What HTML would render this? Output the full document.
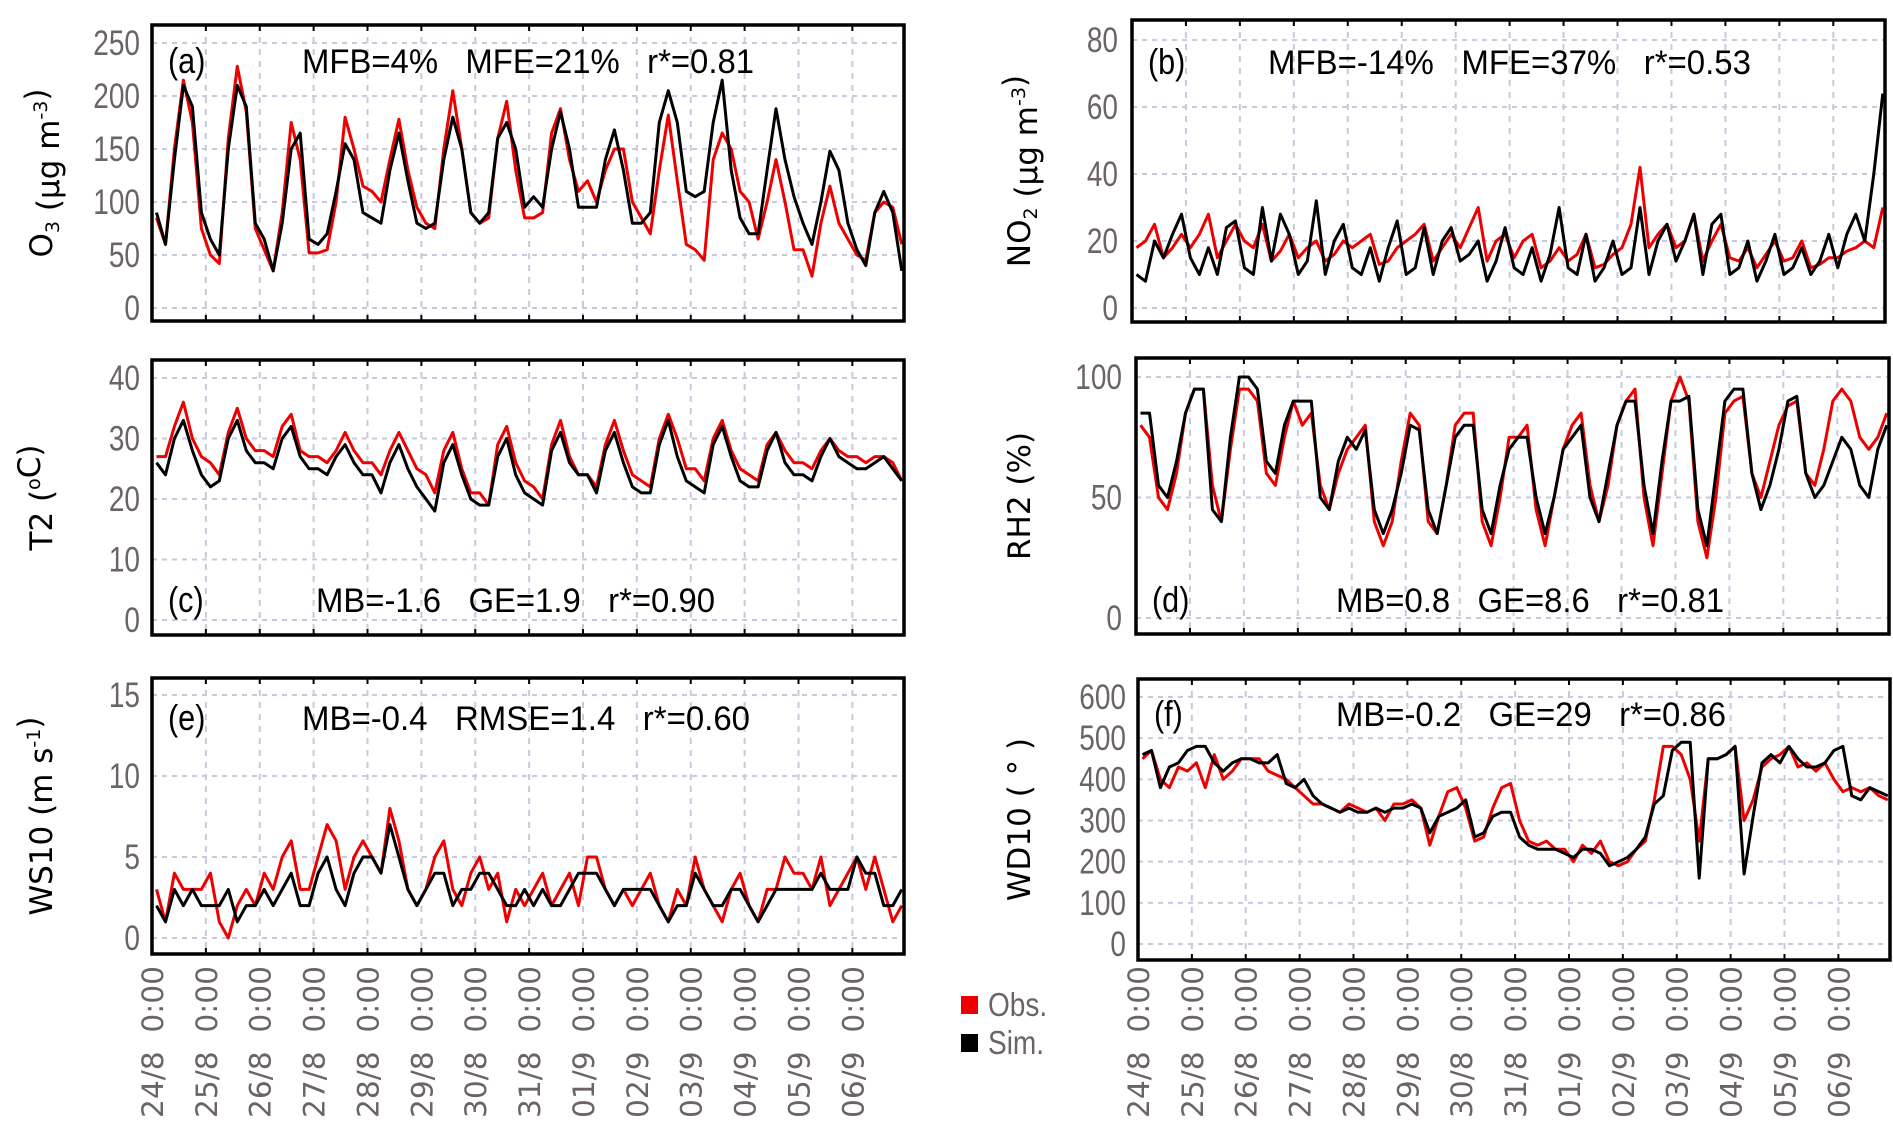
<!DOCTYPE html>
<html><head><meta charset="utf-8">
<style>
html,body{margin:0;padding:0;background:#fff;}
svg{display:block;}
text{font-family:"Liberation Sans",sans-serif;white-space:pre;}
text.dv{font-family:"DejaVu Sans",sans-serif;}
</style></head>
<body>
<svg id="fig" width="1893" height="1122" viewBox="0 0 1893 1122" xmlns="http://www.w3.org/2000/svg"></svg>
<script>
// ---------- data (values per day at hours 2,6,10,14,18,22) ----------
const dayLabels = ["24/8","25/8","26/8","27/8","28/8","29/8","30/8","31/8","01/9","02/9","03/9","04/9","05/9","06/9"];
const sampleHours = [2,6,10,14,18,22];

const o3Obs = [85,60,150,215,175,75, 50,42,160,228,185,75, 55,35,90,175,140,52, 52,55,100,180,150,115, 110,100,140,178,130,95, 80,75,150,205,150,90, 80,85,160,195,130,85, 85,90,165,188,140,110, 120,100,130,150,150,100, 85,70,130,182,120,60, 55,45,140,165,150,110, 100,65,100,140,100,55, 55,30,80,115,80,65, 50,45,90,100,95,60];
const o3Sim = [90,60,140,210,190,90, 65,50,150,210,190,80, 65,35,80,150,165,65, 60,70,110,155,140,90, 85,80,130,165,120,80, 75,80,140,180,150,90, 80,90,160,175,150,95, 105,95,150,185,150,95, 95,95,140,168,130,80, 80,90,175,205,175,110, 105,110,175,215,130,85, 70,70,130,188,140,105, 80,60,100,148,130,80, 55,40,90,110,90,35];

const no2Obs = [18,20,25,15,18,22, 18,22,28,15,20,25, 20,18,25,14,17,22, 15,18,20,14,16,20, 18,20,22,13,14,18, 20,22,25,14,18,22, 18,24,30,14,20,22, 15,20,22,12,14,18, 14,16,22,12,13,16, 18,25,42,18,22,25, 18,20,28,14,20,25, 15,14,18,12,16,20, 14,15,20,12,13,15, 15,17,18,20,18,30];
const no2Sim = [10,8,20,15,22,28, 15,10,18,10,24,26, 12,10,30,14,28,22, 10,14,32,10,20,25, 12,10,18,8,18,26, 10,12,24,10,20,24, 14,16,20,8,14,24, 12,10,18,8,16,30, 12,10,22,8,12,20, 10,12,30,10,20,25, 14,20,28,10,25,28, 10,12,20,8,14,22, 10,12,18,10,14,22, 12,22,28,20,40,64];

const t2Obs = [27,27,32,36,30,27, 26,24,31,35,30,28, 28,27,32,34,28,27, 27,26,28,31,28,26, 26,24,28,31,28,25, 24,21,28,31,25,21, 21,19,29,32,26,23, 22,20,29,33,27,24, 24,22,29,33,28,24, 23,22,30,34,30,25, 25,23,30,33,28,25, 24,23,29,31,28,26, 26,25,28,30,28,27, 27,26,27,27,26,23];
const t2Sim = [26,24,30,33,28,24, 22,23,30,33,28,26, 26,25,30,32,27,25, 25,24,27,29,26,24, 24,21,26,29,25,22, 20,18,26,29,24,20, 19,19,27,30,24,21, 20,19,28,31,26,24, 24,21,28,31,26,22, 21,21,29,33,27,23, 22,21,29,32,27,23, 22,22,28,31,26,24, 24,23,27,30,27,26, 25,25,26,27,25,23];

const rhObs = [80,75,50,45,60,85, 95,95,55,40,70,95, 95,90,60,55,75,90, 80,85,55,45,60,70, 75,80,40,30,40,65, 85,80,40,35,55,80, 85,85,40,30,50,75, 75,80,45,30,50,70, 80,85,55,40,55,80, 90,95,50,30,60,90, 100,90,40,25,50,85, 90,92,60,50,65,80, 88,90,60,55,70,90, 95,90,75,70,75,85];
const rhSim = [85,85,55,50,65,85, 95,95,45,40,75,100, 100,95,65,60,80,90, 90,90,50,45,65,75, 70,78,45,35,45,60, 80,78,45,35,55,75, 80,80,45,35,55,70, 75,75,50,35,50,70, 75,80,50,40,60,80, 90,90,55,35,65,90, 90,92,45,30,60,90, 95,95,60,45,55,70, 90,92,60,50,55,65, 75,70,55,50,70,80];

const wsObs = [3,1,4,3,3,3, 4,1,0,2,3,2, 4,3,5,6,3,3, 5,7,6,3,5,6, 5,4,8,6,3,2, 3,5,6,3,2,4, 5,3,4,1,3,2, 3,4,2,3,4,2, 5,5,3,2,3,2, 3,4,2,1,3,2, 5,3,2,1,3,4, 2,1,3,3,5,4, 4,3,5,2,3,4, 5,3,5,3,1,2];
const wsSim = [2,1,3,2,3,2, 2,2,3,1,2,2, 3,2,3,4,2,2, 4,5,3,2,4,5, 5,4,7,5,3,2, 3,4,4,2,3,3, 4,4,3,2,2,3, 2,3,2,2,3,4, 4,4,3,2,3,3, 3,3,2,1,2,2, 4,3,2,2,3,3, 2,1,2,3,3,3, 3,3,4,3,3,3, 5,4,4,2,2,3];

const wdObs = [450,470,400,380,430,420, 440,380,460,400,420,450, 450,450,420,410,400,380, 360,340,340,330,320,340, 330,320,330,300,340,340, 350,330,240,310,370,380, 330,250,260,330,380,390, 300,250,240,250,230,230, 200,240,220,250,200,190, 200,230,250,350,480,480, 460,400,250,450,450,460, 480,300,350,430,450,460, 480,430,440,420,440,400, 370,380,370,380,360,350];
const wdSim = [460,470,380,430,440,470, 480,480,440,420,440,450, 450,440,440,460,390,380, 400,360,340,330,320,330, 320,320,330,320,330,330, 340,330,270,310,320,330, 350,260,270,310,320,320, 260,240,230,230,230,220, 210,230,230,220,190,200, 210,230,260,340,360,470, 490,490,160,450,450,460, 480,170,310,440,460,440, 480,450,430,430,440,470, 480,360,350,380,370,360];

const o3Ticks = [0,50,100,150,200,250];
const no2Ticks = [0,20,40,60,80];
const t2Ticks = [0,10,20,30,40];
const rhTicks = [0,50,100];
const wsTicks = [0,5,10,15];
const wdTicks = [0,100,200,300,400,500,600];

// ---------- drawing ----------
const NS = "http://www.w3.org/2000/svg";
const svg = document.getElementById('fig');
function mk(tag, attrs, parent){
  const e = document.createElementNS(NS, tag);
  for (const k in attrs) e.setAttribute(k, attrs[k]);
  (parent||svg).appendChild(e);
  return e;
}
const TOTAL_H = 335;

function panel(cfg){
  const g = mk('g', {});
  
  
  const xs = h => cfg.x0 + (cfg.x1 - cfg.x0) * h / TOTAL_H;
  const ys = v => cfg.yb - (cfg.yb - cfg.yt) * (v - cfg.vmin) / (cfg.vmax - cfg.vmin);
  cfg.ticks.forEach(t => {
    const l = mk('line', {x1:cfg.x0, x2:cfg.x1, y1:ys(t), y2:ys(t), stroke:'#c9c9dd', 'stroke-width':2, 'stroke-dasharray':'5,5'}, g);
    
    
    const tx = mk('text', {x:cfg.labX, y:ys(t)+12, 'text-anchor':'end', 'font-size':35, fill:'#6b6368', transform:`translate(${cfg.labX},0) scale(0.8,1) translate(${-cfg.labX},0)`}, g);
    tx.textContent = t;
    
    
  });
  for (let d = 1; d < dayLabels.length; d++){
    const l = mk('line', {x1:xs(d*24), x2:xs(d*24), y1:cfg.top, y2:cfg.bot, stroke:'#c9c9dd', 'stroke-width':2, 'stroke-dasharray':'6,6'}, g);
    
    
  }
  [[cfg.obs,'#ee0000','obs-line'],[cfg.sim,'#000000','sim-line']].forEach(([arr,col,nm]) => {
    let pts = [];
    for (let i = 0; i < arr.length; i++){
      const h = Math.floor(i/6)*24 + sampleHours[i%6];
      pts.push(xs(h).toFixed(1)+','+ys(arr[i]).toFixed(1));
    }
    const p = mk('polyline', {points:pts.join(' '), fill:'none', stroke:col, 'stroke-width':3, 'stroke-linejoin':'round'}, g);
    
    
  });
  const r = mk('rect', {x:cfg.x0, y:cfg.top, width:cfg.x1-cfg.x0, height:cfg.bot-cfg.top, fill:'none', stroke:'#000', 'stroke-width':3.5}, g);
  
  
  for (let d = 1; d < dayLabels.length; d++){
    mk('line', {x1:xs(d*24), x2:xs(d*24), y1:cfg.bot-6, y2:cfg.bot, stroke:'#000', 'stroke-width':2}, g);
    mk('line', {x1:xs(d*24), x2:xs(d*24), y1:cfg.top, y2:cfg.top+6, stroke:'#000', 'stroke-width':2}, g);
  }
  const lt = mk('text', {x:cfg.x0+16, y:cfg.statY, 'font-size':36, fill:'#000', transform:`translate(${cfg.x0+16},0) scale(0.85,1) translate(${-(cfg.x0+16)},0)`}, g);
  lt.textContent = cfg.letter;
  
  
  const st = mk('text', {x:cfg.statX, y:cfg.statY, 'font-size':34, fill:'#000', textLength:cfg.statW, lengthAdjust:'spacingAndGlyphs'}, g);
  st.textContent = cfg.stats;
  
  
  const cy = (cfg.top + cfg.bot)/2;
  const yt = mk('text', {x:0, y:0, 'class':'dv', 'font-size':31, fill:'#000', 'text-anchor':'middle', transform:`translate(${cfg.titleX},${cy}) rotate(-90)`}, g);
  yt.innerHTML = cfg.title;
  
  
  if (cfg.xlabels){
    dayLabels.forEach((dl, d) => {
      const x = xs(d*24) + 11;
      const t = mk('text', {x:0, y:0, 'class':'dv', 'font-size':29, fill:'#6b6368', 'text-anchor':'end', textLength:152, lengthAdjust:'spacingAndGlyphs', transform:`translate(${x},966) rotate(-90)`}, g);
      t.textContent = dl + '  0:00';
      
      
    });
  }
}

const sup = s => `<tspan dy="-12" font-size="19">${s}</tspan><tspan dy="12"></tspan>`;
const sub = s => `<tspan dy="7" font-size="19">${s}</tspan><tspan dy="-7"></tspan>`;

panel({name:'panel-a-o3', x0:152, x1:904, top:25, bot:321, yt:43, yb:308, vmin:0, vmax:250, ticks:o3Ticks, labX:140, obs:o3Obs, sim:o3Sim, letter:'(a)', stats:'MFB=4%   MFE=21%   r*=0.81', statX:302, statW:452, statY:73, title:'O'+sub('3')+' (μg m'+sup('-3')+')', titleX:52});
panel({name:'panel-b-no2', x0:1132, x1:1885, top:20, bot:322, yt:40, yb:308, vmin:0, vmax:80, ticks:no2Ticks, labX:1118, obs:no2Obs, sim:no2Sim, letter:'(b)', stats:'MFB=-14%   MFE=37%   r*=0.53', statX:1268, statW:483, statY:74, title:'NO'+sub('2')+' (μg m'+sup('-3')+')', titleX:1030});
panel({name:'panel-c-t2', x0:152, x1:904, top:360, bot:635, yt:378, yb:620, vmin:0, vmax:40, ticks:t2Ticks, labX:140, obs:t2Obs, sim:t2Sim, letter:'(c)', stats:'MB=-1.6   GE=1.9   r*=0.90', statX:316, statW:399, statY:612, title:'T2 ('+sup('o')+'C)', titleX:52});
panel({name:'panel-d-rh2', x0:1136, x1:1889, top:358, bot:634, yt:377, yb:618, vmin:0, vmax:100, ticks:rhTicks, labX:1122, obs:rhObs, sim:rhSim, letter:'(d)', stats:'MB=0.8   GE=8.6   r*=0.81', statX:1336, statW:388, statY:612, title:'RH2 (%)', titleX:1030});
panel({name:'panel-e-ws10', x0:152, x1:904, top:678, bot:954, yt:695, yb:938, vmin:0, vmax:15, ticks:wsTicks, labX:140, obs:wsObs, sim:wsSim, letter:'(e)', stats:'MB=-0.4   RMSE=1.4   r*=0.60', statX:302, statW:448, statY:730, title:'WS10 (m s'+sup('-1')+')', titleX:52, xlabels:true});
panel({name:'panel-f-wd10', x0:1138, x1:1890, top:679, bot:960, yt:697, yb:944, vmin:0, vmax:600, ticks:wdTicks, labX:1126, obs:wdObs, sim:wdSim, letter:'(f)', stats:'MB=-0.2   GE=29   r*=0.86', statX:1336, statW:390, statY:726, title:'WD10 ( ° )', titleX:1030, xlabels:true});

const lg = mk('g', {});


[['#ee0000','Obs.',1016],['#000','Sim.',1054]].forEach(([c,t,y]) => {
  const r = mk('rect', {x:961, y:y-20, width:17, height:18, fill:c}, lg);
  
  
  const tx = mk('text', {x:988, y:y, 'font-size':33, fill:'#6b6368', transform:`translate(988,0) scale(0.85,1) translate(-988,0)`}, lg);
  tx.textContent = t;
  
  
});
</script>
</body></html>
